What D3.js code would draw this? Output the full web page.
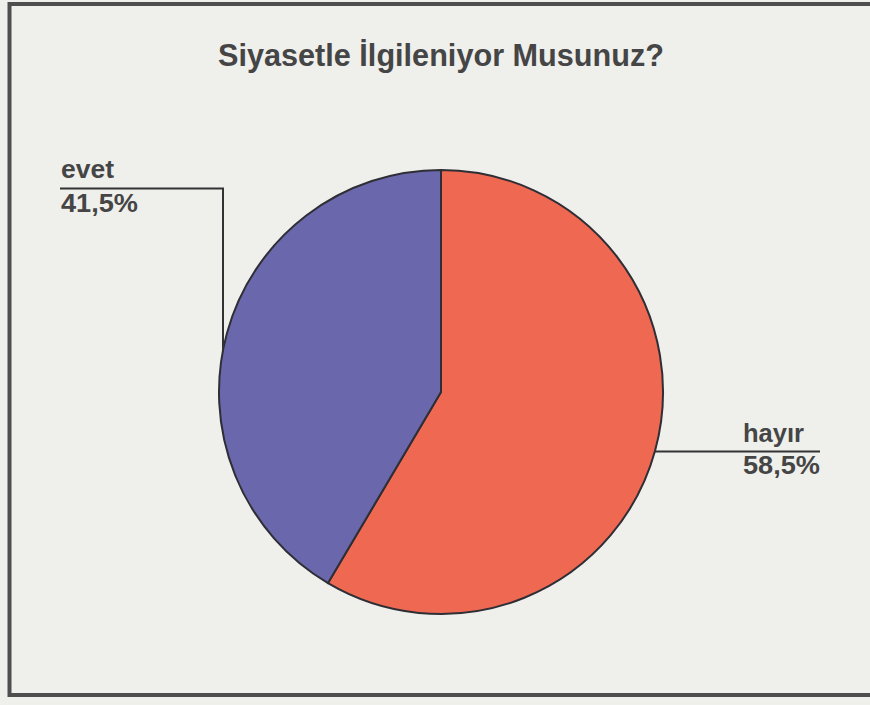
<!DOCTYPE html>
<html>
<head>
<meta charset="utf-8">
<script src="https://cdn.jsdelivr.net/npm/d3@7"></script>
<style>
  html, body { margin: 0; padding: 0; background: #efefec; }
  svg { display: block; }
</style>
</head>
<body>
<svg id="chart" width="870" height="705"></svg>
<script>
const title = "Siyasetle İlgileniyor Musunuz?";
const categories = ["hayır", "evet"];
const values = [58.5, 41.5];
const valueLabels = ["58,5%", "41,5%"];
const colors = ["#ef6852", "#6b67ad"];

const W = 870, H = 705;
const cx = 441, cy = 392, R = 222;

const svg = d3.select("#chart");
svg.append("rect").attr("width", W).attr("height", H).attr("fill", "#efefec");

// frame
svg.append("path")
  .attr("d", `M${W + 5},4 L9.5,4 L9.5,695 L${W + 5},695`)
  .attr("fill", "none").attr("stroke", "#4e4e4e").attr("stroke-width", 4);

// title
svg.append("text")
  .attr("x", cx).attr("y", 66)
  .attr("text-anchor", "middle")
  .attr("font-family", "Liberation Sans, Arial, sans-serif")
  .attr("font-weight", "bold")
  .attr("font-size", 32)
  .attr("fill", "#454545")
  .attr("textLength", 446)
  .attr("lengthAdjust", "spacingAndGlyphs")
  .text(title);

const data = categories.map((c, i) => ({ cat: c, value: values[i], label: valueLabels[i], color: colors[i] }));
const pie = d3.pie().sort(null).value(d => d.value).startAngle(0).endAngle(2 * Math.PI);
const arc = d3.arc().innerRadius(0).outerRadius(R);

const g = svg.append("g").attr("transform", `translate(${cx},${cy})`);
g.selectAll("path.slice")
  .data(pie(data))
  .join("path")
  .attr("class", "slice")
  .attr("d", arc)
  .attr("fill", d => d.data.color)
  .attr("stroke", "#2e2e35")
  .attr("stroke-width", 2)
  .attr("stroke-linejoin", "round");

// leader lines & labels
const lineColor = "#333";
const font = "Liberation Sans, Arial, sans-serif";
const txtColor = "#454545";

// evet: vertical line at x=223 meeting circle
const evX = 223;
const evYcircle = cy - Math.sqrt(R * R - (evX - cx) * (evX - cx));
svg.append("path")
  .attr("d", `M60,188.5 L${evX},188.5 L${evX},${evYcircle}`)
  .attr("fill", "none").attr("stroke", lineColor).attr("stroke-width", 2);
svg.append("text").attr("x", 61).attr("y", 178)
  .attr("font-family", font).attr("font-weight", "bold").attr("font-size", 25)
  .attr("fill", txtColor).attr("textLength", 53).attr("lengthAdjust", "spacingAndGlyphs")
  .text(data[1].cat);
svg.append("text").attr("x", 61).attr("y", 212)
  .attr("font-family", font).attr("font-weight", "bold").attr("font-size", 26)
  .attr("fill", txtColor).attr("textLength", 77).attr("lengthAdjust", "spacingAndGlyphs")
  .text(data[1].label);

// hayır: horizontal line at y=452 from circle to 820
const hyY = 451.5;
const hyXcircle = cx + Math.sqrt(R * R - (hyY - cy) * (hyY - cy));
svg.append("path")
  .attr("d", `M${hyXcircle},${hyY} L820,${hyY}`)
  .attr("fill", "none").attr("stroke", lineColor).attr("stroke-width", 2);
svg.append("text").attr("x", 743).attr("y", 442)
  .attr("font-family", font).attr("font-weight", "bold").attr("font-size", 25)
  .attr("fill", txtColor).attr("textLength", 61).attr("lengthAdjust", "spacingAndGlyphs")
  .text(data[0].cat);
svg.append("text").attr("x", 743).attr("y", 474)
  .attr("font-family", font).attr("font-weight", "bold").attr("font-size", 26)
  .attr("fill", txtColor).attr("textLength", 77).attr("lengthAdjust", "spacingAndGlyphs")
  .text(data[0].label);
</script>
</body>
</html>
